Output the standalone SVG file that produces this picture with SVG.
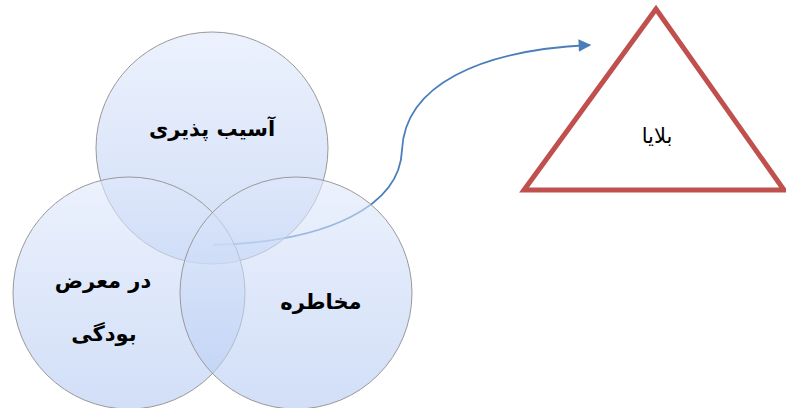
<svg xmlns="http://www.w3.org/2000/svg" width="786" height="408" viewBox="0 0 786 408">
<defs>
<linearGradient id="cg" x1="0" y1="0" x2="0" y2="1">
<stop offset="0" stop-color="#dfe8fb"/>
<stop offset="1" stop-color="#b3c9f2"/>
</linearGradient>
<marker id="ah" viewBox="0 0 10 10" refX="9" refY="5" markerWidth="9" markerHeight="7" orient="auto" markerUnits="strokeWidth">
<path d="M0,0 L10,5 L0,10 z" fill="#4a7ebb"/>
</marker>
<style>
.c{fill:url(#cg);fill-opacity:0.6;stroke:#999;stroke-width:1}
.t{font-family:"DejaVu Sans",sans-serif;font-weight:bold;font-size:21px;fill:#000;text-anchor:middle}
.tri{fill:#fff;stroke:#c0504d;stroke-width:5;stroke-linejoin:miter}
</style>
</defs>
<rect width="786" height="408" fill="#fff"/>
<g id="connectors">
<path d="M213,245 C330,242 400,205 402,150 C405,85 480,50 590,45" fill="none" stroke="#4a7ebb" stroke-width="1.8" marker-end="url(#ah)"/>
</g>
<g id="node-asib">
<circle class="c" cx="212" cy="148" r="116"/>
<text class="t" x="212" y="136" direction="rtl">آسیب پذیری</text>
</g>
<g id="node-dar-marz">
<circle class="c" cx="129" cy="293" r="116"/>
<text class="t" x="103" y="288" direction="rtl">در معرض</text>
<text class="t" x="104" y="341" direction="rtl">بودگی</text>
</g>
<g id="node-mokhatere">
<circle class="c" cx="296" cy="293" r="116"/>
<text class="t" x="321" y="309" direction="rtl">مخاطره</text>
</g>
<g id="node-balaya">
<polygon class="tri" points="656,9 524,190 784,190"/>
<text x="657" y="143" font-family="DejaVu Sans, sans-serif" font-size="21" text-anchor="middle" direction="rtl">بلایا</text>
</g>
</svg>
